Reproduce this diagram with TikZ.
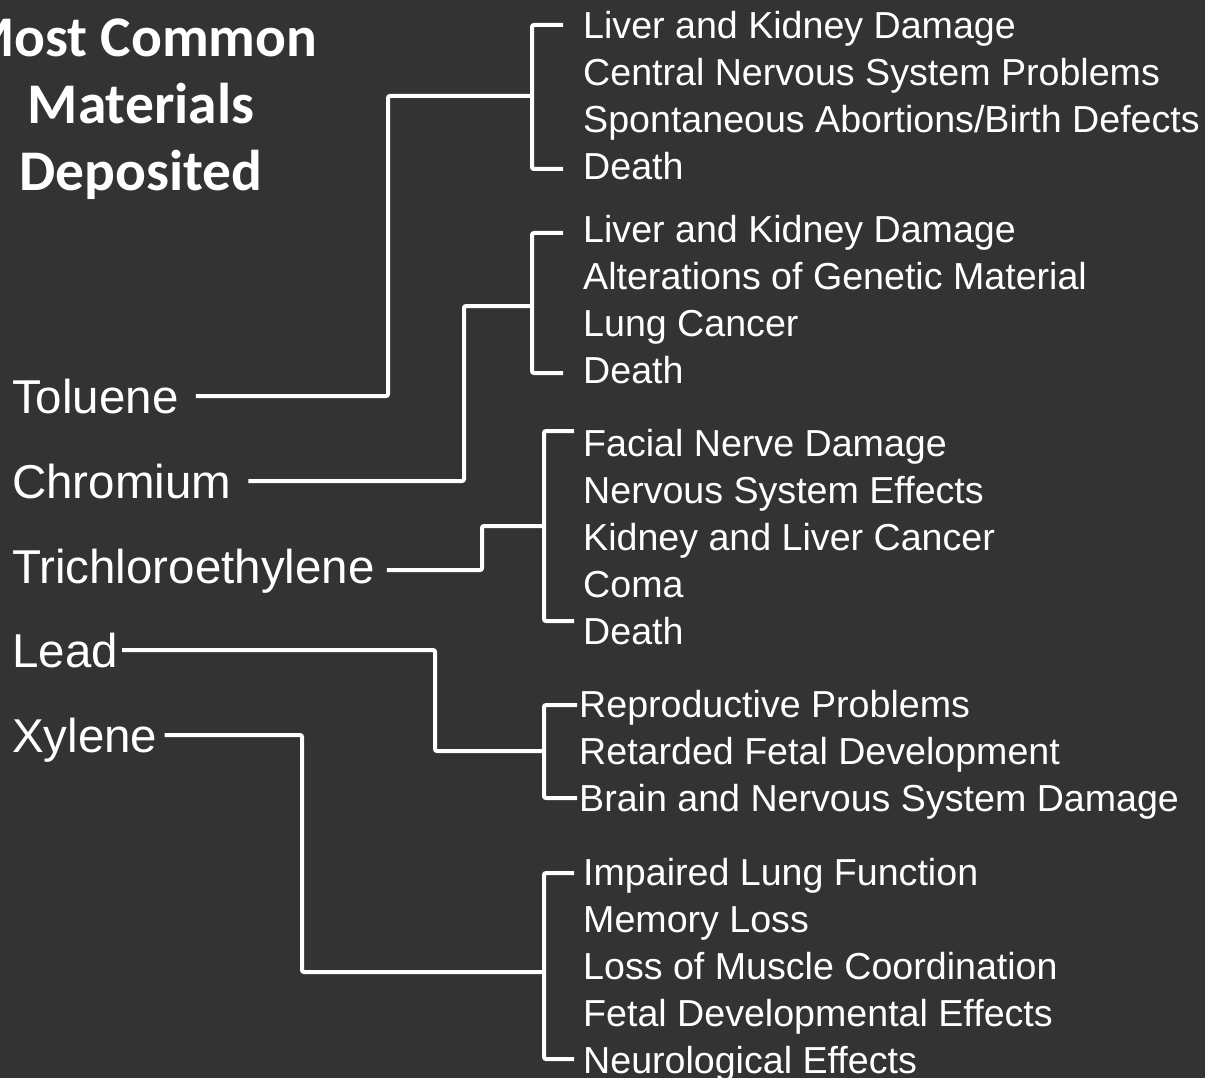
\documentclass[tikz,border=0pt]{standalone}
\usepackage{fontspec}
\setmainfont{Liberation Sans}
\newfontfamily\titlefont{Carlito}
\definecolor{slate}{HTML}{333333}
\begin{document}
\begin{tikzpicture}[x=1pt,y=-1pt]

  % white tree lines, material names on the left and their effects on the right
  \tikzstyle{link}=[draw=white, line width=4pt, rounded corners=2pt]
  \tikzstyle{chem}=[text=white, inner sep=0pt, anchor=west, font=\fontsize{47.5}{56}\selectfont, text height=34pt, text depth=0pt]
  \tikzstyle{effect}=[text=white, inner sep=0pt, anchor=west, font=\fontsize{37.6}{47}\selectfont, text height=26.9pt, text depth=0pt]

  \def\dy{47}     % distance between two effect lines

  \fill[slate] (0,0) rectangle (1205,1078);
  \useasboundingbox (0,0) rectangle (1205,1078);

  \node[text=white, align=center, anchor=north, inner sep=0pt, font=\titlefont\bfseries\fontsize{57.5}{67}\selectfont] (title) at (141,19) {Most Common\\Materials\\Deposited};

  % materials
  \node[chem] (tol) at (12,396) {Toluene};
  \node[chem] (chr) at (12,481) {Chromium};
  \node[chem] (tri) at (12,566) {Trichloroethylene};
  \node[chem] (lead) at (12,650) {Lead};
  \node[chem] (xyl) at (12,735) {Xylene};

  % effects of toluene
  \node[effect] (tol1) at (583,25) {Liver and Kidney Damage};
  \node[effect] (tol2) at (583,25+\dy) {Central Nervous System Problems};
  \node[effect] (tol3) at (583,25+2*\dy) {Spontaneous Abortions/Birth Defects};
  \node[effect] (tol4) at (583,25+3*\dy) {Death};

  % effects of chromium
  \node[effect] (chr1) at (583,229) {Liver and Kidney Damage};
  \node[effect] (chr2) at (583,229+\dy) {Alterations of Genetic Material};
  \node[effect] (chr3) at (583,229+2*\dy) {Lung Cancer};
  \node[effect] (chr4) at (583,229+3*\dy) {Death};

  % effects of trichloroethylene
  \node[effect] (tri1) at (583,443) {Facial Nerve Damage};
  \node[effect] (tri2) at (583,443+\dy) {Nervous System Effects};
  \node[effect] (tri3) at (583,443+2*\dy) {Kidney and Liver Cancer};
  \node[effect] (tri4) at (583,443+3*\dy) {Coma};
  \node[effect] (tri5) at (583,443+4*\dy) {Death};

  % effects of lead
  \node[effect] (lead1) at (579,704) {Reproductive Problems};
  \node[effect] (lead2) at (579,704+\dy) {Retarded Fetal Development};
  \node[effect] (lead3) at (579,704+2*\dy) {Brain and Nervous System Damage};

  % effects of xylene
  \node[effect] (xyl1) at (583,872) {Impaired Lung Function};
  \node[effect] (xyl2) at (583,872+\dy) {Memory Loss};
  \node[effect] (xyl3) at (583,872+2*\dy) {Loss of Muscle Coordination};
  \node[effect] (xyl4) at (583,872+3*\dy) {Fetal Developmental Effects};
  \node[effect] (xyl5) at (583,872+4*\dy) {Neurological Effects};

  % bracket ends and junctions
  \coordinate (tolA) at (563,25);   \coordinate (tolB) at (563,169);
  \coordinate (chrA) at (563,233);  \coordinate (chrB) at (563,373);
  \coordinate (triA) at (574,431);  \coordinate (triB) at (574,621);
  \coordinate (leadA) at (577,705); \coordinate (leadB) at (577,798);
  \coordinate (xylA) at (574,873);  \coordinate (xylB) at (574,1059);

  \coordinate (tolJ) at (532,96);   \coordinate (tolK) at (388,96);
  \coordinate (chrJ) at (532,306);  \coordinate (chrK) at (464,306);
  \coordinate (triJ) at (544,526);  \coordinate (triK) at (482,526);
  \coordinate (leadJ) at (544,751); \coordinate (leadK) at (435,751);
  \coordinate (xylJ) at (544,972);  \coordinate (xylK) at (302,972);

  % brackets
  \draw[link] (tolA) -| (tolJ) |- (tolB);
  \draw[link] (chrA) -| (chrJ) |- (chrB);
  \draw[link] (triA) -| (triJ) |- (triB);
  \draw[link] (leadA) -| (leadJ) |- (leadB);
  \draw[link] (xylA) -| (xylJ) |- (xylB);

  % material to bracket
  \draw[link] ([xshift=17pt]tol.east) -| (tolK) -- (tolJ);
  \draw[link] ([xshift=17pt]chr.east) -| (chrK) -- (chrJ);
  \draw[link] ([xshift=12pt,yshift=-4pt]tri.east) -| (triK) -- (triJ);
  \draw[link] ([xshift=4pt]lead.east) -| (leadK) -- (leadJ);
  \draw[link] ([xshift=7pt]xyl.east) -| (xylK) -- (xylJ);

\end{tikzpicture}
\end{document}
